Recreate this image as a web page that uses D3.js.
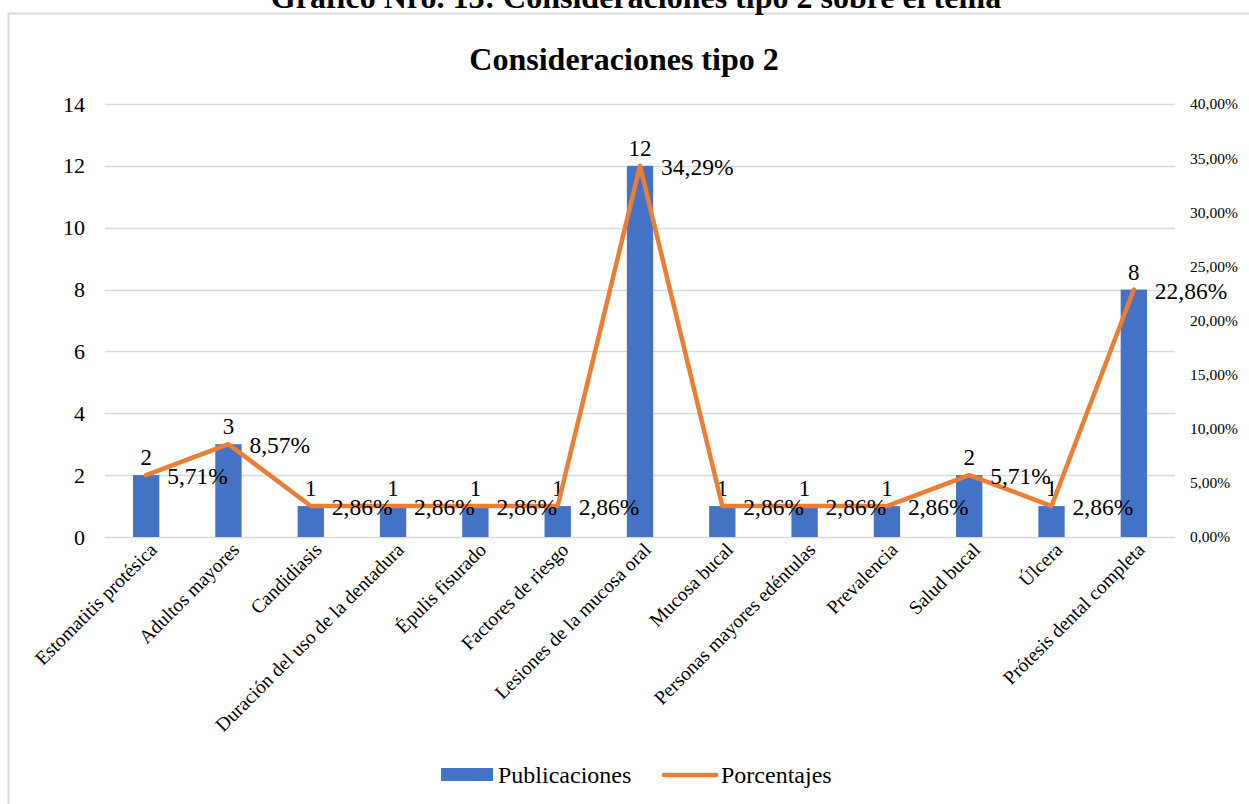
<!DOCTYPE html>
<html>
<head>
<meta charset="utf-8">
<script src="https://cdn.jsdelivr.net/npm/d3@7"></script>
<style>
	body { margin: 0; background: #fff; }
	svg text { font-family: "Liberation Serif", "DejaVu Serif", serif; }
</style>
</head>
<body>
<div id="chart"></div>
<script>
var categories = ["Estomatitis protésica", "Adultos mayores", "Candidiasis", "Duración del uso de la dentadura",
	"Épulis fisurado", "Factores de riesgo", "Lesiones de la mucosa oral", "Mucosa bucal",
	"Personas mayores edéntulas", "Prevalencia", "Salud bucal", "Úlcera", "Prótesis dental completa"];
var publicaciones = [2, 3, 1, 1, 1, 1, 12, 1, 1, 1, 2, 1, 8];
var porcentajes = [5.71, 8.57, 2.86, 2.86, 2.86, 2.86, 34.29, 2.86, 2.86, 2.86, 5.71, 2.86, 22.86];
var leftTicks = [0, 2, 4, 6, 8, 10, 12, 14];
var rightTicks = [0, 5, 10, 15, 20, 25, 30, 35, 40];

var width = 1249, height = 804;
var plot = {left: 105, right: 1175, top: 104, bottom: 537};
var blue = "#4472C4", orange = "#ED7D31", grid = "#d9d9d9";
var serif = "Liberation Serif";

var svg = d3.select("#chart").append("svg")
	.attr("width", width)
	.attr("height", height)
	.attr("font-family", serif);

// outer chart frame
svg.append("rect")
	.attr("x", 8.5).attr("y", 13.5)
	.attr("width", 1260).attr("height", 820)
	.attr("fill", "none")
	.attr("stroke", grid)
	.attr("stroke-width", 2);

// caption (cut off at top, as in the original)
svg.append("text")
	.attr("x", 636).attr("y", 8)
	.attr("text-anchor", "middle")
	.attr("font-size", 32)
	.attr("font-weight", "bold")
	.text("Gráfico Nro. 13: Consideraciones tipo 2 sobre el tema");

svg.append("text")
	.attr("x", 624).attr("y", 70)
	.attr("text-anchor", "middle")
	.attr("font-size", 32)
	.attr("font-weight", "bold")
	.text("Consideraciones tipo 2");

var x = d3.scaleBand().domain(categories).range([plot.left, plot.right]).padding(0);
var y = d3.scaleLinear().domain([0, 14]).range([plot.bottom, plot.top]);
var y2 = d3.scaleLinear().domain([0, 40]).range([plot.bottom, plot.top]);
var barWidth = x.bandwidth() * 0.32;
var cx = function(d) { return x(d) + x.bandwidth() / 2; };
var pct = function(d) { return d3.format(".2f")(d).replace(".", ",") + "%"; };

// gridlines
svg.append("g").selectAll("line")
	.data(leftTicks)
	.enter().append("line")
	.attr("x1", plot.left).attr("x2", plot.right)
	.attr("y1", function(d) { return Math.round(y(d)) + 0.5; })
	.attr("y2", function(d) { return Math.round(y(d)) + 0.5; })
	.attr("stroke", grid)
	.attr("stroke-width", 1.5);

// left axis
var leftAxis = svg.append("g")
	.attr("transform", "translate(" + (plot.left - 20) + ",0)")
	.call(d3.axisLeft(y).tickValues(leftTicks).tickSize(0).tickPadding(0));
leftAxis.attr("font-family", serif);
leftAxis.select(".domain").remove();
leftAxis.selectAll("text").attr("font-size", 22).attr("fill", "#000");

// right axis
var rightAxis = svg.append("g")
	.attr("transform", "translate(" + (plot.right + 15) + ",0)")
	.call(d3.axisRight(y2).tickValues(rightTicks).tickSize(0).tickPadding(0).tickFormat(pct));
rightAxis.attr("font-family", serif);
rightAxis.select(".domain").remove();
rightAxis.selectAll("text").attr("font-size", 15.5).attr("fill", "#000");

// bars
svg.append("g").selectAll("rect")
	.data(categories)
	.enter().append("rect")
	.attr("x", function(d) { return cx(d) - barWidth / 2; })
	.attr("y", function(d, i) { return y(publicaciones[i]); })
	.attr("width", barWidth)
	.attr("height", function(d, i) { return y(0) - y(publicaciones[i]); })
	.attr("fill", blue);

// bar labels
svg.append("g").selectAll("text")
	.data(categories)
	.enter().append("text")
	.attr("x", cx)
	.attr("y", function(d, i) { return y(publicaciones[i]) - 10; })
	.attr("text-anchor", "middle")
	.attr("font-size", 23)
	.text(function(d, i) { return publicaciones[i]; });

// line
var line = d3.line()
	.x(function(d, i) { return cx(categories[i]); })
	.y(function(d) { return y2(d); });
svg.append("path")
	.datum(porcentajes)
	.attr("d", line)
	.attr("fill", "none")
	.attr("stroke", orange)
	.attr("stroke-width", 4.5)
	.attr("stroke-linejoin", "round")
	.attr("stroke-linecap", "round");

// line labels
svg.append("g").selectAll("text")
	.data(porcentajes)
	.enter().append("text")
	.attr("x", function(d, i) { return cx(categories[i]) + 21; })
	.attr("y", function(d) { return y2(d) + 9; })
	.attr("font-size", 23.5)
	.text(pct);

// category labels
svg.append("g").selectAll("text")
	.data(categories)
	.enter().append("text")
	.attr("transform", function(d) { return "translate(" + (cx(d) + 12) + "," + (plot.bottom + 14) + ") rotate(-45)"; })
	.attr("text-anchor", "end")
	.attr("font-size", 19.5)
	.text(function(d) { return d; });

// legend
var legend = svg.append("g");
legend.append("rect")
	.attr("x", 441).attr("y", 768)
	.attr("width", 52).attr("height", 13)
	.attr("fill", blue);
legend.append("text")
	.attr("x", 498).attr("y", 783)
	.attr("font-size", 24)
	.text("Publicaciones");
legend.append("line")
	.attr("x1", 664).attr("x2", 716)
	.attr("y1", 775).attr("y2", 775)
	.attr("stroke", orange)
	.attr("stroke-width", 4.5)
	.attr("stroke-linecap", "round");
legend.append("text")
	.attr("x", 721).attr("y", 783)
	.attr("font-size", 24)
	.text("Porcentajes");
</script>
</body>
</html>
